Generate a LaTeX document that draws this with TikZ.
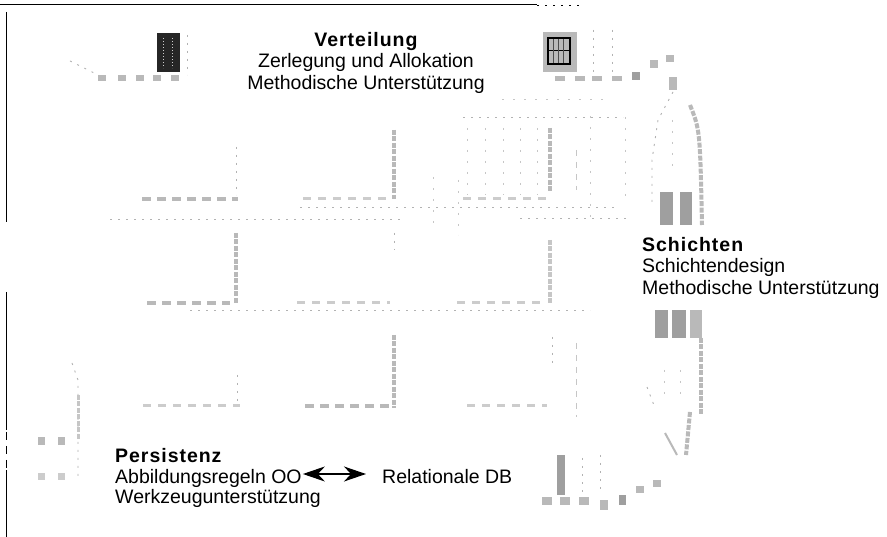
\documentclass[tikz,border=0pt]{standalone}
\usepackage{fontspec}
\setmainfont{Liberation Sans}
\newfontfamily\headfont[LetterSpace=5]{Liberation Sans}
\usetikzlibrary{arrows.meta}
\begin{document}
\begin{tikzpicture}[x=1pt,y=-1pt,
  txt/.style={inner sep=0pt, font=\fontsize{19.5}{22}\selectfont, text height=14pt, text depth=4pt},
  hd/.style={inner sep=0pt, font=\headfont\bfseries\fontsize{19.5}{22}\selectfont},
  border/.style={black, line width=1pt},
  tdash/.style={gray!55, line width=3.5pt, dash pattern=on 9pt off 6pt},
  tlight/.style={gray!40, line width=3pt, dash pattern=on 8pt off 7pt},
  tvert/.style={gray!55, line width=4pt, dash pattern=on 5pt off 1.5pt},
  dots/.style={gray!60, line width=0.9pt, dash pattern=on 2pt off 6pt},
  gdots/.style={gray!45, line width=0.9pt, dash pattern=on 2pt off 9pt},
  fdash/.style={gray!45, line width=1pt, dash pattern=on 6pt off 6pt},
  blob/.style={fill=gray!55},
  dblob/.style={fill=gray!75},
  biarrow/.style={black, line width=1.5pt, {Stealth[length=22pt,width=15pt,inset=7pt]}-{Stealth[length=22pt,width=15pt,inset=7pt]}}
]
\fill[white] (0,0) rectangle (887,537);
\useasboundingbox (0,0) rectangle (887,537);

% frame remnants
\draw[border] (0,5) -- (537,5);
\draw[dots, black] (537,5) -- (580,5);
\draw[border] (6,12) -- (6,222);
\draw[border] (6,292) -- (6,430);
\draw[border] (6,470) -- (6,537);
\draw[border, dash pattern=on 8pt off 6pt] (6,432) -- (6,470);

% ---------- texts ----------
\node[hd, anchor=base] (vt) at (366,47) {Verteilung};
\node[txt, anchor=base] (zl) at (366,68) {Zerlegung und Allokation};
\node[txt, anchor=base] (mu1) at (366,90) {Methodische Unterstützung};

\node[hd, anchor=base west] (sc) at (642,252) {Schichten};
\node[txt, anchor=base west] (sd) at (642,273) {Schichtendesign};
\node[txt, anchor=base west] (mu2) at (642,295) {Methodische Unterstützung};

\node[hd, anchor=base west] (ps) at (115,462) {Persistenz};
\node[txt, anchor=base west] (abb) at (115,483) {Abbildungsregeln OO};
\node[txt, anchor=base west] (rel) at (382,483) {Relationale DB};
\node[txt, anchor=base west] (wz) at (115,503) {Werkzeugunterstützung};
\draw[biarrow, shorten <=1pt, shorten >=16pt] ([yshift=4pt]abb.east) -- ([yshift=4pt]rel.west);

% ---------- central layered structure ----------
% row A
\draw[tdash] (142,199) -- (238,199);
\draw[tlight] (303,199) -- (390,199);
\draw[tlight] (463,199) -- (547,199);
\draw[dots] (300,207) -- (615,207);
\draw[dots] (110,219) -- (405,219);
\draw[dots] (520,218) -- (627,218);
% row B
\draw[tdash] (147,303) -- (230,303);
\draw[tlight] (297,303) -- (390,303);
\draw[tlight] (457,303) -- (545,303);
\draw[dots] (190,310) -- (590,310);
% row C
\draw[tlight] (143,406) -- (240,406);
\draw[tdash] (305,406) -- (390,406);
\draw[tlight] (467,406) -- (547,406);
% verticals
\draw[dots] (236,147) -- (236,195);
\draw[tvert] (236,233) -- (236,303);
\draw[tvert] (394,130) -- (394,199);
\draw[dots] (394,233) -- (394,250);
\draw[tvert] (550,128) -- (550,192);
\draw[tvert, gray!45] (550,240) -- (550,303);
\draw[dots] (237,375) -- (237,405);
\draw[tvert] (394,335) -- (394,408);
\draw[dots] (552,337) -- (552,363);
\draw[fdash] (576,343) -- (576,417);
\draw[fdash] (576,150) -- (576,190);
\draw[gdots] (590,116) -- (590,220);
\draw[gdots] (625,117) -- (625,200);
\draw[gdots] (433,177) -- (433,228);
\draw[gdots] (458,180) -- (458,235);
% upper right grid
\draw[gdots] (502,99) -- (603,99);
\draw[dots] (463,117) -- (623,117);
\foreach \gx in {467,485,503,520,537}{
  \draw[gdots] (\gx,128) -- (\gx,195);
}

% ---------- top-left icon ----------
\fill[black!85] (157,33) rectangle (180,72);
\draw[gray!40, line width=1pt, dash pattern=on 1pt off 2pt] (163,38) -- (163,68);
\draw[gray!40, line width=1pt, dash pattern=on 1pt off 2pt] (172,38) -- (172,68);
\draw[dots] (187,35) -- (187,75);
\draw[dots] (70,61) -- (88,70) -- (100,76);
\foreach \bx in {102,122,140,157,175}{
  \fill[blob] (\bx-4,75) rectangle (\bx+4,81);
}

% ---------- top-right icon ----------
\fill[gray!55] (543,32) rectangle (577,72);
\draw[black, line width=1.3pt] (548,38) rectangle (570,64);
\draw[black, line width=0.8pt] (548,50) -- (570,50);
\foreach \sx in {553,558,563}{\draw[black!70, line width=0.6pt] (\sx,39) -- (\sx,63);}
\draw[dots] (593,30) -- (593,75);
\draw[dots] (612,30) -- (612,75);
\foreach \bx in {560,580,597,617}{
  \fill[blob] (\bx-5,76) rectangle (\bx+5,81);
}
\fill[dblob] (632,72) rectangle (640,80);
\fill[blob] (650,60) rectangle (658,68);
\fill[blob] (666,55) rectangle (674,62);
% right "house" shape
\fill[blob] (669,77) rectangle (677,90);
\draw[dots] (673,92) -- (658,120) -- (652,160) -- (652,205);
\draw[tvert] (690,105) .. controls (700,130) .. (702,225);
\fill[dblob] (660,192) rectangle (673,225);
\fill[dblob] (680,192) rectangle (692,225);
\draw[gdots] (672,120) -- (672,170);

% ---------- lower right ----------
\fill[dblob] (655,310) rectangle (668,338);
\fill[dblob] (672,310) rectangle (686,338);
\fill[blob] (690,310) rectangle (702,338);
\draw[tvert] (701,338) -- (701,415);
\draw[tvert] (690,412) -- (686,455);
\draw[dots] (647,387) -- (655,408);
\draw[gray!55, line width=2pt] (665,433) -- (677,455);
\draw[gdots] (664,370) -- (664,400);
\draw[gdots] (680,370) -- (680,400);
\fill[dblob] (557,455) rectangle (565,495);
\draw[dots] (582,458) -- (582,492);
\draw[dots] (600,455) -- (600,492);
\foreach \bx in {547,565,584}{
  \fill[blob] (\bx-5,497) rectangle (\bx+5,505);
}
\fill[blob] (600,500) rectangle (608,510);
\fill[dblob] (619,495) rectangle (626,505);
\fill[blob] (636,486) rectangle (644,493);
\fill[blob] (653,480) rectangle (661,487);

% ---------- lower left ----------
\draw[dots] (72,363) -- (78,380) -- (78,477);
\draw[tvert, gray!45, line width=3pt] (78,395) -- (78,440);
\fill[blob] (38,437) rectangle (45,445);
\fill[blob] (58,437) rectangle (65,445);
\fill[gray!40] (38,473) rectangle (45,480);
\fill[gray!40] (58,473) rectangle (65,480);
\end{tikzpicture}
\end{document}
